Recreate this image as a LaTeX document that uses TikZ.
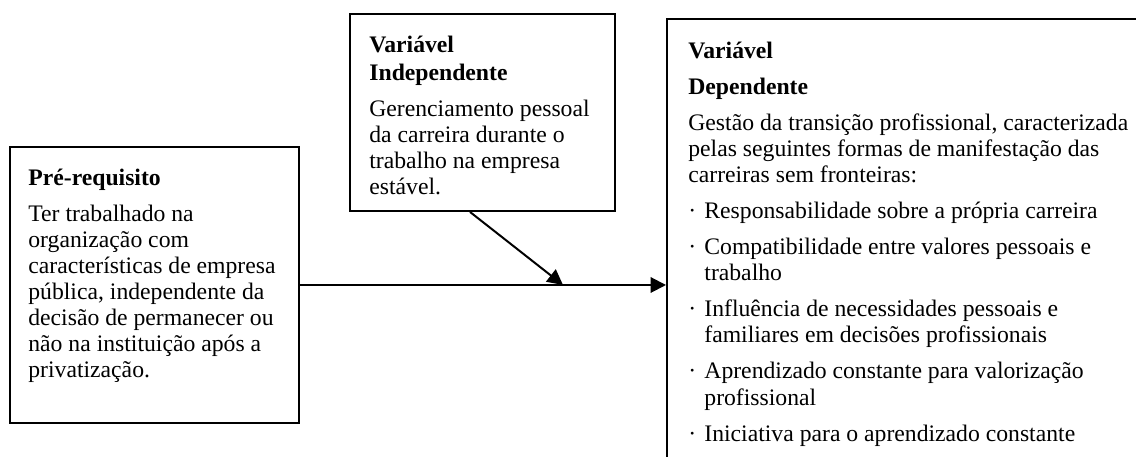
\documentclass[tikz,border=0pt]{standalone}
\usepackage{fontspec}
\setmainfont{Liberation Serif}
\usetikzlibrary{arrows.meta,fit}

\newcommand{\marca}{\makebox[8.5pt][l]{·}}
\newcommand{\recuo}{\makebox[8.5pt]{}}

\begin{document}
\begin{tikzpicture}[x = 0.53pt, y = -0.53pt,
            caixa/.style = {draw, line width = 1.05pt, inner sep = 0pt},
            texto/.style = {anchor = north west, inner sep = 0pt, align = left,
                            font = \fontsize{12.55}{13.8}\selectfont},
            seta/.style = {line width = 1.05pt, -{Triangle[length = 8.2pt, width = 8.2pt]}}]
            \useasboundingbox (0,0) rectangle (1136,457);
            \clip (0,0) rectangle (1136,457);
            % Caixas
            \node[caixa, fit = {(10,147) (299,423)}] (prereq) {};
            \node[caixa, fit = {(350,14) (615,211)}] (indep) {};
            \node[caixa, fit = {(667,19) (1180,500)}] (dep) {};
            % Textos
            \node[texto] (prereqtxt) at (28,167) {\strut\textbf{Pré-requisito}\\[5.3pt]
                Ter trabalhado na\\
                organização com\\
                características de empresa\\
                pública, independente da\\
                decisão de permanecer ou\\
                não na instituição após a\\
                privatização.};
            \node[texto] (indeptxt) at (369,34) {\strut\textbf{Variável}\\[1pt]
                \textbf{Independente}\\[5.3pt]
                Gerenciamento pessoal\\
                da carreira durante o\\
                trabalho na empresa\\
                estável.};
            \node[texto] (deptxt) at (688,40) {\strut\textbf{Variável}\\[5.3pt]
                \textbf{Dependente}\\[5.3pt]
                Gestão da transição profissional, caracterizada\\
                pelas seguintes formas de manifestação das\\
                carreiras sem fronteiras:\\[5.3pt]
                \marca Responsabilidade sobre a própria carreira\\[5.3pt]
                \marca Compatibilidade entre valores pessoais e\\
                \recuo trabalho\\[5.3pt]
                \marca Influência de necessidades pessoais e\\
                \recuo familiares em decisões profissionais\\[5.3pt]
                \marca Aprendizado constante para valorização\\
                \recuo profissional\\[5.3pt]
                \marca Iniciativa para o aprendizado constante};
            % Setas
            \coordinate (encontro) at (563,285);
            \draw[seta] (prereq.east) -- (prereq.east -| dep.west);
            \draw[seta] ([xshift = -6.6pt]indep.south) -- (encontro);
       \end{tikzpicture}
\end{document}
